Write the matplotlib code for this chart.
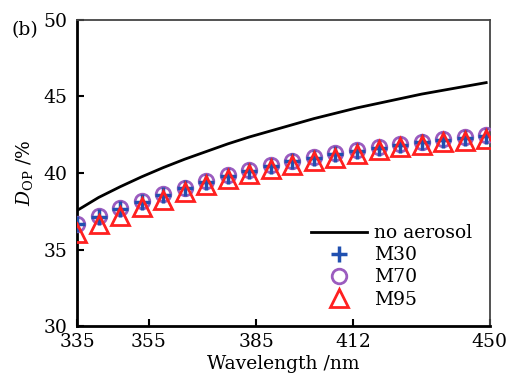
import numpy as np
import matplotlib
matplotlib.use("Agg")
import matplotlib.pyplot as plt

plt.rcParams.update({"font.family": "DejaVu Serif"})
plt.rcParams.update({"mathtext.fontset": "dejavuserif"})
plt.rcParams.update({"font.size": 13.5})

# wavelengths (nm), 6 nm step
wavelength = np.arange(335, 450, 6)

no_aerosol = [37.55, 38.4, 39.1, 39.75, 40.35, 40.9, 41.4, 41.9, 42.35, 42.75,
              43.15, 43.55, 43.9, 44.25, 44.55, 44.85, 45.15, 45.4, 45.65, 45.9]
m30 = [36.65, 37.15, 37.65, 38.1, 38.55, 39.0, 39.4, 39.8, 40.15, 40.45,
       40.75, 41.0, 41.25, 41.45, 41.65, 41.85, 42.0, 42.15, 42.3, 42.4]
m70 = [36.7, 37.2, 37.7, 38.15, 38.6, 39.05, 39.45, 39.85, 40.2, 40.5,
       40.8, 41.05, 41.3, 41.5, 41.7, 41.9, 42.05, 42.2, 42.35, 42.45]
m95 = [36.1, 36.65, 37.2, 37.75, 38.25, 38.75, 39.2, 39.6, 39.95, 40.25,
       40.5, 40.75, 41.0, 41.25, 41.5, 41.7, 41.85, 42.0, 42.1, 42.2]

xticks = [335, 355, 385, 412, 450]
yticks = [30, 35, 40, 45, 50]

fig = plt.figure(figsize=(5.07, 3.74), dpi=100)
ax = fig.add_axes([0.152, 0.128, 0.814, 0.819])

ax.plot(wavelength, no_aerosol, "-k", linewidth=2, label="no aerosol")
ax.plot(wavelength, m30, "+", color="#2050b0", markersize=11, markeredgewidth=2.5,
        label="M30", zorder=4)
ax.plot(wavelength, m70, "o", color="#9b5cbf", markerfacecolor="none",
        markersize=10.5, markeredgewidth=2, label="M70", zorder=3)
ax.plot(wavelength, m95, "^", color="#ff2020", markerfacecolor="none",
        markersize=13, markeredgewidth=2, label="M95", zorder=5)

ax.set_xlim(335, 450)
ax.set_ylim(30, 50)
ax.set_xticks(xticks)
ax.set_yticks(yticks)
ax.tick_params(direction="in", length=5, width=1.5, top=False, right=False)
ax.tick_params(axis="y", pad=7)
ax.tick_params(axis="x", pad=5)

ax.spines["left"].set_linewidth(2)
ax.spines["bottom"].set_linewidth(2)
ax.spines["top"].set_linewidth(1.3)
ax.spines["right"].set_linewidth(1.3)
ax.spines["top"].set_color("#444444")
ax.spines["right"].set_color("#444444")

ax.set_xlabel("Wavelength /nm", labelpad=3)
ax.set_ylabel(r"$D_{\mathrm{OP}}$ /%", labelpad=6)

ax.legend(loc="lower right", bbox_to_anchor=(0.975, 0.033), frameon=False,
          handlelength=3.0, handletextpad=0.35, labelspacing=0.22,
          borderaxespad=0, fontsize=13.5)

fig.text(0.022, 0.905, "(b)", fontsize=13.5)

fig.savefig("out.png", dpi=100)
